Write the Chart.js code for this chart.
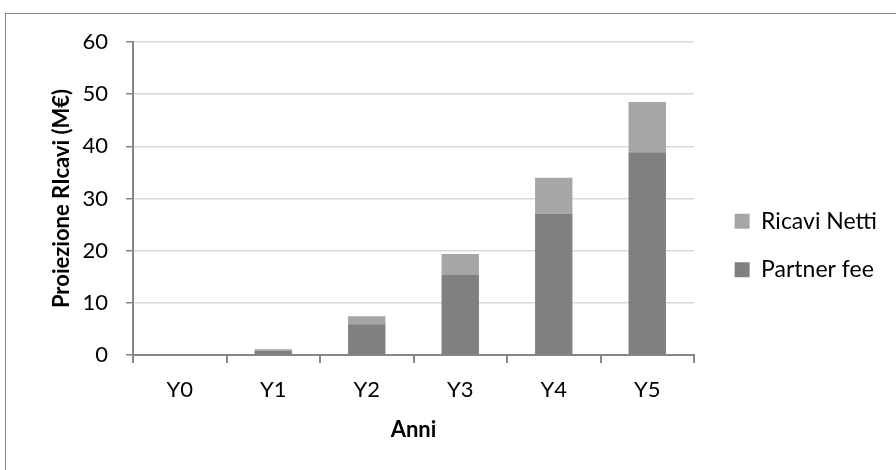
<!DOCTYPE html>
<html>
<head>
<meta charset="utf-8">
<script src="https://cdn.jsdelivr.net/npm/chart.js@4"></script>
<style>
  html, body { margin: 0; padding: 0; background: #fff; overflow: hidden; }
  #frame { position: absolute; left: 5px; top: 13px; width: 2000px; height: 2000px; border: 1px solid #868686; }
  #wrap { position: absolute; left: 0; top: 0; width: 896px; height: 470px; }
</style>
</head>
<body>
<div id="frame"></div>
<div id="wrap"><canvas id="chart" width="896" height="470"></canvas></div>
<script>
// Dati del grafico
const anni = ["Y0", "Y1", "Y2", "Y3", "Y4", "Y5"];
const partnerFee = [0, 0.85, 5.9, 15.45, 27.1, 38.85];
const ricaviNetti = [0, 0.25, 1.55, 3.9, 6.9, 9.65];
const yMin = 0;
const yMax = 60;
const yStep = 10;

const FONT = "Lato, 'Open Sans', sans-serif";
const AXIS = "#868686";
const GRID = "#D9D9D9";
const PAD_RIGHT = 9;
const PLOT_LEFT = 133, PLOT_RIGHT = 694, PLOT_TOP = 42, PLOT_BOTTOM = 355;
const W = 896, H = 470, PAD_BOTTOM = 21;

const ctx = document.getElementById("chart").getContext("2d");
const chart = new Chart(ctx, {
    type: "bar",
    data: {
        labels: anni,
        datasets: [
            {
                label: "Partner fee",
                data: partnerFee,
                backgroundColor: "#808080",
                barPercentage: 0.4,
                categoryPercentage: 1
            },
            {
                label: "Ricavi Netti",
                data: ricaviNetti,
                backgroundColor: "#A6A6A6",
                barPercentage: 0.4,
                categoryPercentage: 1
            }
        ]
    },
    options: {
        responsive: false,
        animation: false,
        layout: { padding: { top: PLOT_TOP, left: 0, right: PAD_RIGHT, bottom: PAD_BOTTOM } },
        plugins: {
            tooltip: { enabled: false },
            legend: {
                position: "right",
                reverse: true,
                maxWidth: 300,
                labels: {
                    boxWidth: 15,
                    boxHeight: 15,
                    padding: 25.5,
                    color: "#000",
                    font: { family: FONT, size: 23 }
                }
            }
        },
        scales: {
            x: {
                stacked: true,
                grid: { drawOnChartArea: false, drawTicks: true, tickLength: 8, color: AXIS, lineWidth: 2 },
                border: { color: AXIS, width: 2 },
                ticks: { color: "#000", padding: 14, font: { family: FONT, size: 22 } },
                title: {
                    display: true,
                    text: "Anni",
                    color: "#000",
                    padding: { top: 0, bottom: 6 },
                    font: { family: FONT, size: 22, weight: "bold" }
                },
                afterFit: (s) => { s.height = H - PAD_BOTTOM - PLOT_BOTTOM; }
            },
            y: {
                stacked: true,
                min: yMin,
                max: yMax,
                ticks: { stepSize: yStep, color: "#000", padding: 18, font: { family: FONT, size: 22 } },
                grid: {
                    color: (c) => (c.tick && c.tick.value === 0 ? AXIS : GRID),
                    lineWidth: 1.5,
                    tickColor: AXIS,
                    tickLength: 7
                },
                border: { color: AXIS, width: 2 },
                title: {
                    display: true,
                    text: "Proiezione RIcavi (M€)",
                    color: "#000",
                    padding: { top: 49, bottom: 0 },
                    font: { family: FONT, size: 22, weight: "bold" }
                },
                afterFit: (s) => { s.width = PLOT_LEFT; }
            },
            // spazio vuoto tra grafico e legenda
            gap: {
                type: "linear",
                position: "right",
                display: true,
                grid: { display: false, drawTicks: false },
                border: { display: false },
                ticks: { display: false },
                afterFit: (s) => {
                    const lg = s.chart.legend;
                    s.width = Math.max(0, W - PAD_RIGHT - lg.width - PLOT_RIGHT);
                }
            }
        }
    }
});
</script>
</body>
</html>
